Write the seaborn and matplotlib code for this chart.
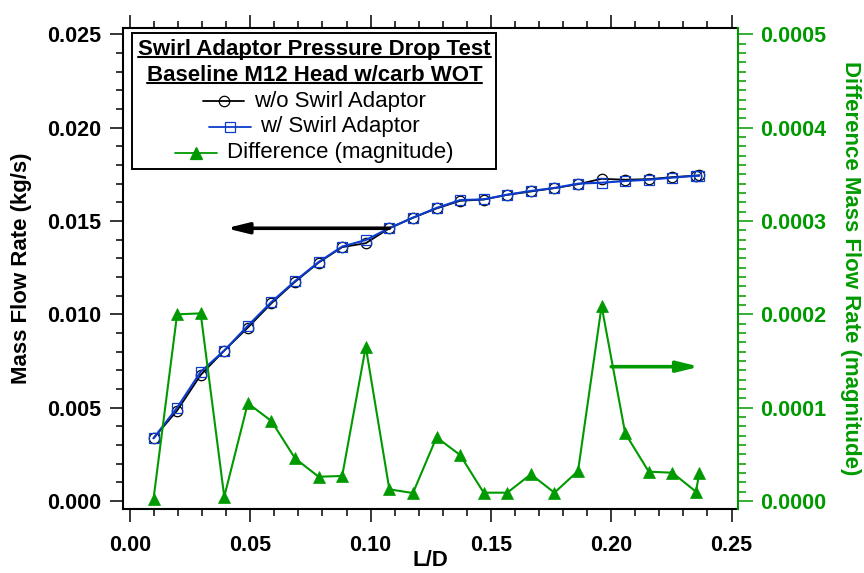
import numpy as np
import pandas as pd
import matplotlib
matplotlib.use("Agg")
import matplotlib.pyplot as plt
import seaborn as sns
from matplotlib.offsetbox import TextArea, DrawingArea, HPacker, VPacker, AnchoredOffsetbox
from matplotlib.lines import Line2D
from matplotlib.ticker import MultipleLocator, FormatStrFormatter

# ---------------- data ----------------
ld = [0.0098, 0.0196, 0.0294, 0.0392, 0.0490, 0.0588, 0.0686, 0.0784, 0.0882,
      0.0980, 0.1078, 0.1176, 0.1274, 0.1372, 0.1470, 0.1568, 0.1666, 0.1764,
      0.1862, 0.1960, 0.2058, 0.2156, 0.2254, 0.2352, 0.2366]
flow_without = [0.00336, 0.00484, 0.00675, 0.00806, 0.00929, 0.01059, 0.01174,
                0.01277, 0.01360, 0.01381, 0.01461, 0.01517, 0.01567, 0.01608,
                0.01615, 0.01640, 0.01658, 0.01676, 0.01697, 0.01726, 0.01721,
                0.01724, 0.01735, 0.01743, 0.01745]
flow_with = [0.00336, 0.00500, 0.00692, 0.00806, 0.00939, 0.01066, 0.01178,
             0.01280, 0.01363, 0.01398, 0.01462, 0.01518, 0.01570, 0.01612,
             0.01616, 0.01641, 0.01661, 0.01677, 0.01700, 0.01705, 0.01714,
             0.01721, 0.01732, 0.01742, 0.01742]
flow_diff = [0.0000020, 0.0002000, 0.0002010, 0.0000046, 0.0001047, 0.0000857,
             0.0000457, 0.0000260, 0.0000268, 0.0001653, 0.0000125, 0.0000085,
             0.0000682, 0.0000493, 0.0000089, 0.0000089, 0.0000286, 0.0000089,
             0.0000321, 0.0002089, 0.0000725, 0.0000314, 0.0000303, 0.0000100,
             0.0000303]

legend_title = ["Swirl Adaptor Pressure Drop Test", "Baseline M12 Head w/carb WOT"]
series_labels = ["w/o Swirl Adaptor", "w/ Swirl Adaptor", "Difference (magnitude)"]
x_label = "L/D"
y_label = "Mass Flow Rate (kg/s)"
y2_label = "Difference Mass Flow Rate (magnitude)"

# annotation arrows (tail -> head)
left_arrow = [(0.1078, 0.01461), (0.0400, 0.01461)]
right_arrow = [(0.2000, 0.0001439), (0.2366, 0.0001439)]

# ---------------- style ----------------
sns.set_theme(style="ticks")
plt.rcParams["font.family"] = ["Liberation Sans", "DejaVu Sans"]
plt.rcParams["font.weight"] = "bold"
plt.rcParams["text.color"] = "black"
plt.rcParams["axes.labelcolor"] = "black"
plt.rcParams["xtick.color"] = "black"
plt.rcParams["ytick.color"] = "black"

BLACK = "#000000"
BLUE = "#0c3ccc"
GREEN = "#009a00"

W, H = 864, 573
fig = plt.figure(figsize=(W / 100, H / 100), dpi=100)
L, R, T, B = 122.7, 738.3, 27.7, 509.3
ax = fig.add_axes([L / W, 1 - B / H, (R - L) / W, (B - T) / H])
ax2 = ax.twinx()

df = pd.DataFrame({"ld": ld, "without": flow_without, "with": flow_with, "diff": flow_diff})

sns.lineplot(data=df, x="ld", y="without", ax=ax, color=BLACK, linewidth=1.3,
             marker="o", markersize=7.5, markerfacecolor="none",
             markeredgecolor=BLACK, markeredgewidth=0.9, errorbar=None,
             legend=False, sort=False)
sns.lineplot(data=df, x="ld", y="with", ax=ax, color=BLUE, linewidth=1.5,
             marker="s", markersize=6.8, markerfacecolor="none",
             markeredgecolor=BLUE, markeredgewidth=0.9, errorbar=None,
             legend=False, sort=False)
sns.lineplot(data=df, x="ld", y="diff", ax=ax2, color=GREEN, linewidth=1.5,
             marker="^", markersize=8.3, markerfacecolor=GREEN,
             markeredgecolor=GREEN, markeredgewidth=0.5, errorbar=None,
             legend=False, sort=False)

# ---------------- axes ----------------
ax.set_xlim(-0.003, 0.2528)
ax.set_ylim(-0.000445, 0.025354)
ax2.set_ylim(-0.0000089, 0.0005071)

ax.xaxis.set_major_locator(MultipleLocator(0.05))
ax.xaxis.set_minor_locator(MultipleLocator(0.01))
ax.xaxis.set_major_formatter(FormatStrFormatter("%.2f"))
ax.yaxis.set_major_locator(MultipleLocator(0.005))
ax.yaxis.set_minor_locator(MultipleLocator(0.001))
ax.yaxis.set_major_formatter(FormatStrFormatter("%.3f"))
ax2.yaxis.set_major_locator(MultipleLocator(0.0001))
ax2.yaxis.set_minor_locator(MultipleLocator(0.00001))
ax2.yaxis.set_major_formatter(FormatStrFormatter("%.4f"))

TFS = 15.5
ax.tick_params(axis="x", which="both", direction="out", bottom=True, top=True,
               labeltop=False, width=1.1, colors=BLACK, labelsize=TFS, pad=9)
ax.tick_params(axis="x", which="major", length=9.5)
ax.tick_params(axis="x", which="minor", length=5)
ax.tick_params(axis="y", which="both", direction="out", left=True, right=False,
               width=1.1, colors=BLACK, labelsize=TFS, pad=6)
ax.tick_params(axis="y", which="major", length=9.5)
ax.tick_params(axis="y", which="minor", length=5)
ax2.tick_params(axis="y", which="both", direction="out", right=True, left=False,
                width=1.1, colors=GREEN, labelsize=TFS, pad=5)
ax2.tick_params(axis="y", which="major", length=10.5)
ax2.tick_params(axis="y", which="minor", length=5.5)

for side in ["left", "top", "bottom"]:
    ax.spines[side].set_color(BLACK)
    ax.spines[side].set_linewidth(1.5)
    ax2.spines[side].set_visible(False)
ax.spines["right"].set_visible(False)
ax2.spines["right"].set_color(GREEN)
ax2.spines["right"].set_linewidth(1.5)

LFS = 16
ax.set_xlabel(x_label, fontsize=LFS, fontweight="bold", va="center", ha="center")
ax.xaxis.set_label_coords(0.5, (B - 561) / (B - T))
ax.set_ylabel(y_label, fontsize=LFS, fontweight="bold", va="center", ha="center")
ax.yaxis.set_label_coords((22 - L) / (R - L), 0.5)
ax2.set_ylabel(y2_label, fontsize=LFS, fontweight="bold", color=GREEN,
               rotation=270, va="center", ha="center")
ax2.yaxis.set_label_coords((850 - L) / (R - L), 0.5)

# ---------------- arrows ----------------
ax.annotate("", xy=left_arrow[1], xytext=left_arrow[0],
            arrowprops=dict(arrowstyle="-|>,head_length=1.3,head_width=0.32",
                            lw=2.6, color=BLACK, shrinkA=0, shrinkB=0,
                            mutation_scale=10))
ax2.annotate("", xy=right_arrow[1], xytext=right_arrow[0],
             arrowprops=dict(arrowstyle="-|>,head_length=1.3,head_width=0.32",
                             lw=2.6, color=GREEN, shrinkA=0, shrinkB=0,
                             mutation_scale=10))

# ---------------- legend ----------------
def make_handle(color, marker, mfc, ms):
    da = DrawingArea(30, 14, 0, 0)
    da.add_artist(Line2D([0, 30], [7, 7], color=color, lw=1.3))
    da.add_artist(Line2D([15], [7], marker=marker, ms=ms, mfc=mfc, mec=color,
                         mew=0.9, color=color, linestyle="none"))
    return da

t1 = TextArea(legend_title[0], textprops=dict(fontsize=LFS, fontweight="bold", color=BLACK))
t2 = TextArea(legend_title[1], textprops=dict(fontsize=LFS, fontweight="bold", color=BLACK))
handles = [make_handle(BLACK, "o", "none", 7.5),
           make_handle(BLUE, "s", "none", 6.8),
           make_handle(GREEN, "^", GREEN, 8.3)]
rows = []
for h, lab in zip(handles, series_labels):
    rows.append(HPacker(children=[h, TextArea(lab, textprops=dict(fontsize=LFS, fontweight="normal", color=BLACK))],
                        align="center", pad=0, sep=7))
box = VPacker(children=[t1, t2] + rows, align="center", pad=0, sep=3.4)
anch = AnchoredOffsetbox(loc="upper left", child=box, pad=0.42, borderpad=0,
                         frameon=True, prop=dict(size=10),
                         bbox_to_anchor=(132.3 / W, 1 - 33.3 / H),
                         bbox_transform=fig.transFigure)
anch.patch.set_boxstyle("square", pad=0)
anch.patch.set_edgecolor(BLACK)
anch.patch.set_linewidth(1.4)
anch.patch.set_facecolor("white")
anch.zorder = 10
ax.add_artist(anch)

fig.canvas.draw()
renderer = fig.canvas.get_renderer()
for ta in (t1, t2):
    bb = ta._text.get_window_extent(renderer)
    yy = (bb.y0 + 3) / H
    fig.add_artist(Line2D([bb.x0 / W, bb.x1 / W], [yy, yy], color=BLACK, lw=1.5,
                          transform=fig.transFigure, zorder=20))

fig.savefig("out.png", dpi=100)
